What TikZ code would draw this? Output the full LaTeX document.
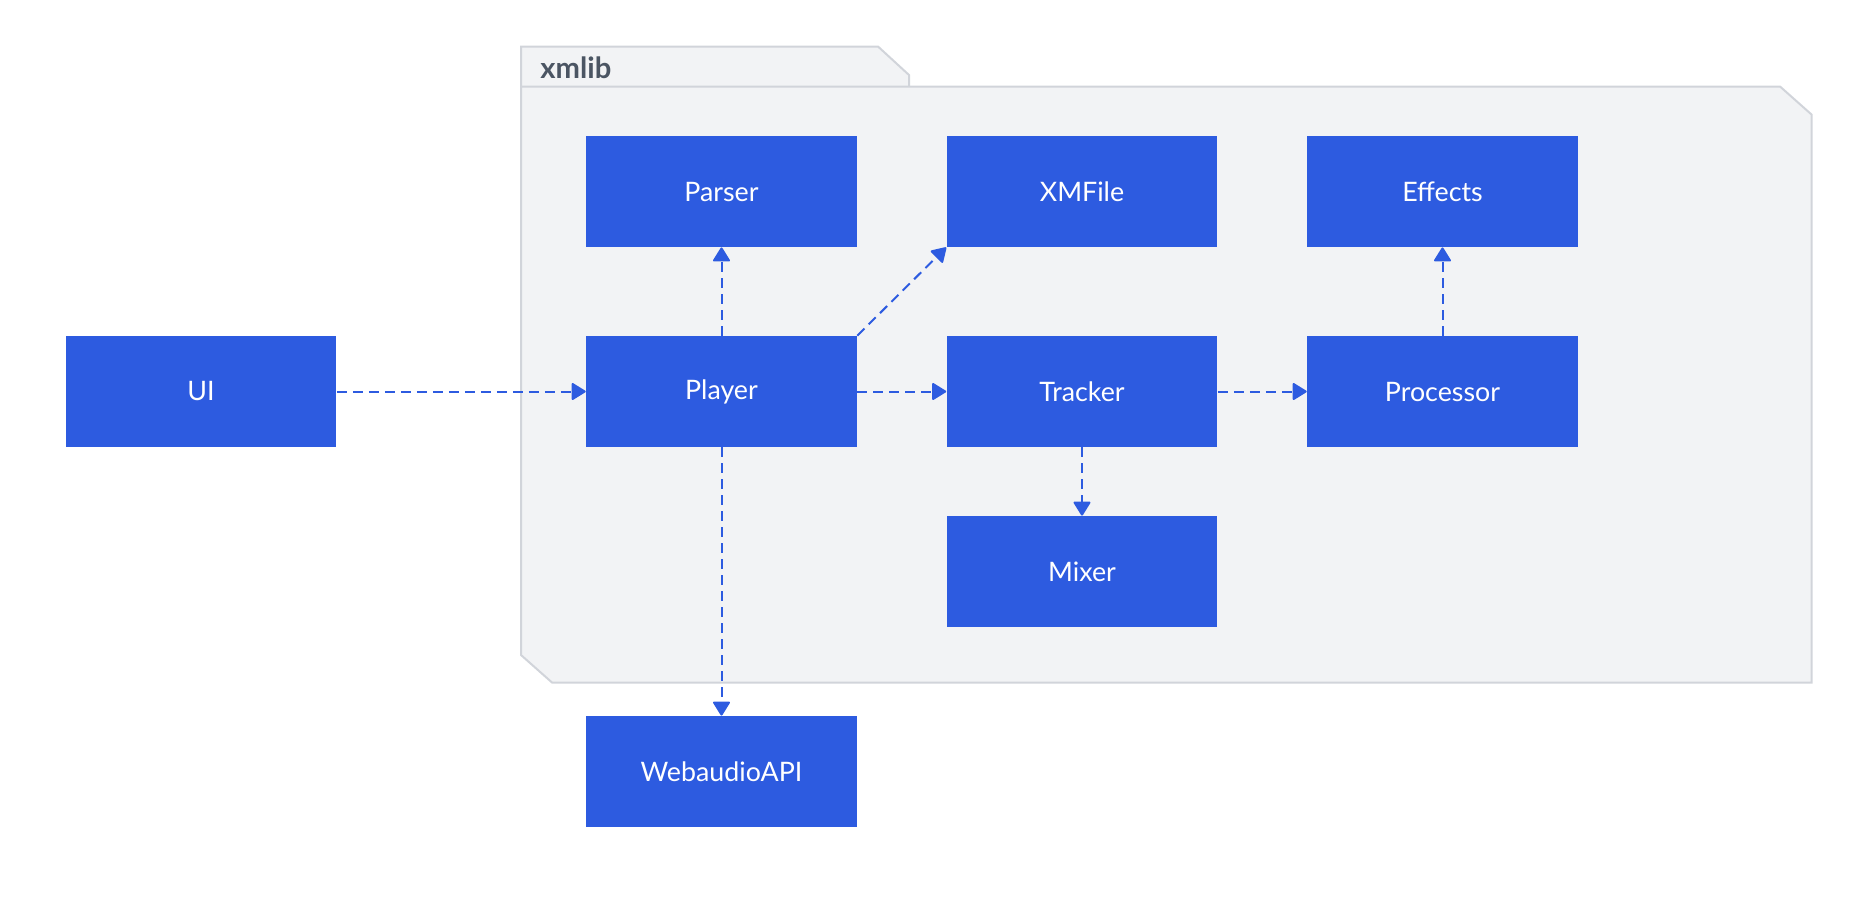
\documentclass[tikz,border=0pt]{standalone}
\usepackage{fontspec}
\setmainfont{Lato}
\usetikzlibrary{arrows.meta}
\definecolor{boxblue}{HTML}{2D5BE0}
\definecolor{pkgfill}{HTML}{F2F3F5}
\definecolor{pkgline}{HTML}{D1D4DA}
\definecolor{pkgtext}{HTML}{4B5563}
\tikzstyle{classbox}=[rectangle,fill=boxblue,text=white,inner sep=0pt,
                      minimum width=135.4pt,minimum height=55.5pt,
                      font=\fontsize{13.4}{16}\selectfont]
\tikzstyle{depends}=[draw=boxblue,line width=1pt,dash pattern=on 5pt off 3pt,
                     -{Triangle[length=7.5pt,width=9pt,round]}]
\tikzstyle{package}=[draw=pkgline,fill=pkgfill,line width=1pt]

\begin{document}
\begin{tikzpicture}[x=0.5pt,y=-0.5pt]
    \useasboundingbox (0,0) rectangle (1869,912);
    % package frame
    \draw[package] (521,86.5) -- (521,46.5) -- (878,46.5) -- (909,75) -- (909,86.5);
    \draw[package] (521,86.5) -- (1780,86.5) -- (1811.5,114.5) -- (1811.5,682.5)
                   -- (552,682.5) -- (521,655) -- cycle;
    \node (pkg) at (540,78) [anchor=base west,text=pkgtext,inner sep=0pt,
          font=\fontsize{14.6}{17}\selectfont\bfseries]{xmlib};
    % classes
    \node (ui)        at ( 201,  391.5) [classbox]{UI};
    \node (parser)    at ( 721.5,191.5) [classbox]{Parser};
    \node (xmfile)    at (1082,  191.5) [classbox]{XMFile};
    \node (effects)   at (1442.5,191.5) [classbox]{Effects};
    \node (player)    at ( 721.5,391.5) [classbox]{Player};
    \node (tracker)   at (1082,  391.5) [classbox]{Tracker};
    \node (processor) at (1442.5,391.5) [classbox]{Processor};
    \node (mixer)     at (1082,  571.5) [classbox]{Mixer};
    \node (webaudio)  at ( 721.5,771.5) [classbox]{WebaudioAPI};
    % dependencies
    \draw[depends] (ui) -- (player);
    \draw[depends] (player) -- (parser);
    \draw[depends] (player.north east) -- (xmfile.south west);
    \draw[depends] (player) -- (tracker);
    \draw[depends] (tracker) -- (processor);
    \draw[depends] (processor) -- (effects);
    \draw[depends] (tracker) -- (mixer);
    \draw[depends] (player) -- (webaudio);
\end{tikzpicture}
\end{document}
